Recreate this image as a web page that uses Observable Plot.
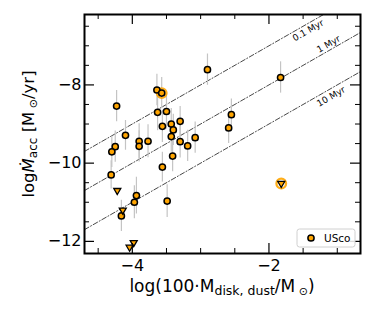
<!DOCTYPE html>
<html><head><meta charset="utf-8">
<script src="https://cdn.jsdelivr.net/npm/d3@7"></script>
<script src="https://cdn.jsdelivr.net/npm/@observablehq/plot@0.6"></script>
<style>
body{margin:0;background:#fff;}
svg{font-family:"DejaVu Sans",sans-serif;}
</style>
</head><body><div id="chart"></div>
<script>
// Detected accretors (log 100*Mdust, log Macc, error)
const accX = [-4.23,-3.64,-3.57,-3.63,-3.50,-3.56,-3.43,-3.40,-3.30,-3.43,-3.30,-3.19,-3.08,-4.10,-3.90,-3.90,-3.77,-4.25,-4.30,-3.41,-3.56,-4.31,-3.94,-3.97,-3.49,-4.16,-2.90,-1.83,-2.55,-2.59];
const accY = [-8.54,-8.13,-8.21,-8.70,-8.68,-9.06,-9.00,-9.15,-8.93,-9.32,-9.45,-9.56,-9.35,-9.29,-9.44,-9.57,-9.44,-9.58,-9.71,-9.82,-10.10,-10.30,-10.83,-11.00,-10.97,-11.35,-7.61,-7.81,-8.76,-9.10];
const accErr = [0.40,0.40,0.40,0.47,0.45,0.41,0.40,0.40,0.38,0.40,0.42,0.40,0.40,0.38,0.45,0.40,0.42,0.40,0.40,0.40,0.38,0.36,0.47,0.42,0.42,0.40,0.40,0.40,0.40,0.40];
// Upper limits
const limX = [-4.22,-4.14,-3.98,-4.04,-1.82];
const limY = [-10.70,-11.20,-12.03,-12.15,-10.52];
// Highlighted objects (ring)
const ringX = [-3.57,-1.82];
const ringY = [-8.21,-10.52];
// Constant-age lines: log Macc = log(100 Mdust) - log t
const ageLogYr = [5,6,7];
const ageLabels = ["0.1 Myr","1 Myr","10 Myr"];
const ageLabelX = [-1.426,-1.128,-1.09];
const ageLabelY = [-6.61,-6.96,-8.30];
// Axes
const xDomain = [-4.70,-0.66];
const yDomain = [-12.31,-6.2];
const xTicksMajor = [-4,-2];
const xTicksMinor = [-4.5,-3.5,-3,-2.5,-1.5,-1];
const yTicksMajor = [-12,-10,-8];
const yTicksMinor = [-11.5,-11,-10.5,-9.5,-9,-8.5,-7.5,-7,-6.5];
const legendLabel = "USco";

const W = 374, H = 312, mL = 84, mR = 14, mT = 14, mB = 59;
const iw = W - mL - mR, ih = H - mT - mB;
const orange = "#FFA500";

const acc = accX.map((x,i)=>({x, y: accY[i], e: accErr[i]}));
const lim = limX.map((x,i)=>({x, y: limY[i]}));
const ring = ringX.map((x,i)=>({x, y: ringY[i]}));
const lineData = ageLogYr.flatMap(a => xDomain.map(x => ({age: a, x, y: x - a})));
const labData = ageLabels.map((t,i)=>({t, x: ageLabelX[i], y: ageLabelY[i]}));

const fmt = d3.format("d");
const svg = Plot.plot({
  width: W, height: H,
  marginLeft: mL, marginRight: mR, marginTop: mT, marginBottom: mB,
  x: {domain: xDomain},
  y: {domain: yDomain},
  style: {fontFamily: "DejaVu Sans", background: "white"},
  marks: [
    Plot.line(lineData, {x: "x", y: "y", z: "age", stroke: "#333", strokeWidth: 0.9, strokeDasharray: "5,2,1,2", clip: true}),
    Plot.text(labData, {x: "x", y: "y", text: "t", rotate: -29.8, fontSize: 9, fill: "black"}),
    Plot.ruleX(acc, {x: "x", y1: d => d.y - d.e, y2: d => d.y + d.e, stroke: "#c4c4c4", strokeWidth: 1.2}),
    Plot.dot(ring, {x: "x", y: "y", r: 4.8, stroke: orange, strokeWidth: 2.3, fill: "none", strokeOpacity: 0.9}),
    Plot.dot(acc, {x: "x", y: "y", r: 3.1, fill: orange, stroke: "black", strokeWidth: 1.5}),
    Plot.dot(lim, {x: "x", y: "y", r: 2.6, symbol: "triangle", rotate: 180, fill: orange, stroke: "black", strokeWidth: 1.3}),
    // inward ticks
    Plot.tickX(xTicksMajor, {x: d => d, insetTop: ih - 10, stroke: "black", strokeWidth: 1.2}),
    Plot.tickX(xTicksMajor, {x: d => d, insetBottom: ih - 10, stroke: "black", strokeWidth: 1.2}),
    Plot.tickX(xTicksMinor, {x: d => d, insetTop: ih - 5, stroke: "black", strokeWidth: 1}),
    Plot.tickX(xTicksMinor, {x: d => d, insetBottom: ih - 5, stroke: "black", strokeWidth: 1}),
    Plot.tickY(yTicksMajor, {y: d => d, insetRight: iw - 10, stroke: "black", strokeWidth: 1.2}),
    Plot.tickY(yTicksMajor, {y: d => d, insetLeft: iw - 10, stroke: "black", strokeWidth: 1.2}),
    Plot.tickY(yTicksMinor, {y: d => d, insetRight: iw - 5, stroke: "black", strokeWidth: 1}),
    Plot.tickY(yTicksMinor, {y: d => d, insetLeft: iw - 5, stroke: "black", strokeWidth: 1}),
    Plot.axisX(xTicksMajor, {anchor: "bottom", tickSize: 0, tickPadding: 6, fontSize: 16, label: null, tickFormat: fmt, fill: "black"}),
    Plot.axisY(yTicksMajor, {anchor: "left", tickSize: 0, tickPadding: 3, fontSize: 16, label: null, tickFormat: fmt, fill: "black"}),
    Plot.frame({stroke: "black", strokeWidth: 2})
  ]
});
document.getElementById("chart").appendChild(svg);

const s = d3.select(svg);
// x label
const xl = s.append("text").attr("x", mL + iw/2).attr("y", 291.5).attr("text-anchor", "middle")
  .attr("font-size", 17).attr("fill", "black");
xl.append("tspan").text("log(100·M");
xl.append("tspan").attr("font-size", 12.5).attr("dy", 3).text("disk, dust");
xl.append("tspan").attr("dy", -3).text("/M");
xl.append("tspan").attr("font-size", 11).attr("dy", 3).text(" ⊙");
xl.append("tspan").attr("dy", -3).text(")");
// y label
const yl = s.append("text").attr("transform", "translate(34,134) rotate(-90)").attr("text-anchor", "middle")
  .attr("font-size", 16.5).attr("fill", "black");
yl.append("tspan").text("log");
yl.append("tspan").attr("font-style", "italic").text("Ṁ");
yl.append("tspan").attr("font-size", 12).attr("dy", 3).text("acc");
yl.append("tspan").attr("dy", -3).text(" [M");
yl.append("tspan").attr("font-size", 11).attr("dy", 3).text(" ⊙");
yl.append("tspan").attr("dy", -3).text("/yr]");
// legend
const lg = s.append("g");
lg.append("rect").attr("x", 297).attr("y", 229).attr("width", 58).attr("height", 18).attr("rx", 2.5)
  .attr("fill", "white").attr("fill-opacity", 0.85).attr("stroke", "#d0d0d0").attr("stroke-width", 1);
lg.append("circle").attr("cx", 311).attr("cy", 238).attr("r", 3.1).attr("fill", orange).attr("stroke", "black").attr("stroke-width", 1.5);
lg.append("text").attr("x", 324).attr("y", 241.8).attr("text-anchor", "start").attr("font-size", 10.5).attr("fill", "black").text(legendLabel);
</script>
</body></html>
